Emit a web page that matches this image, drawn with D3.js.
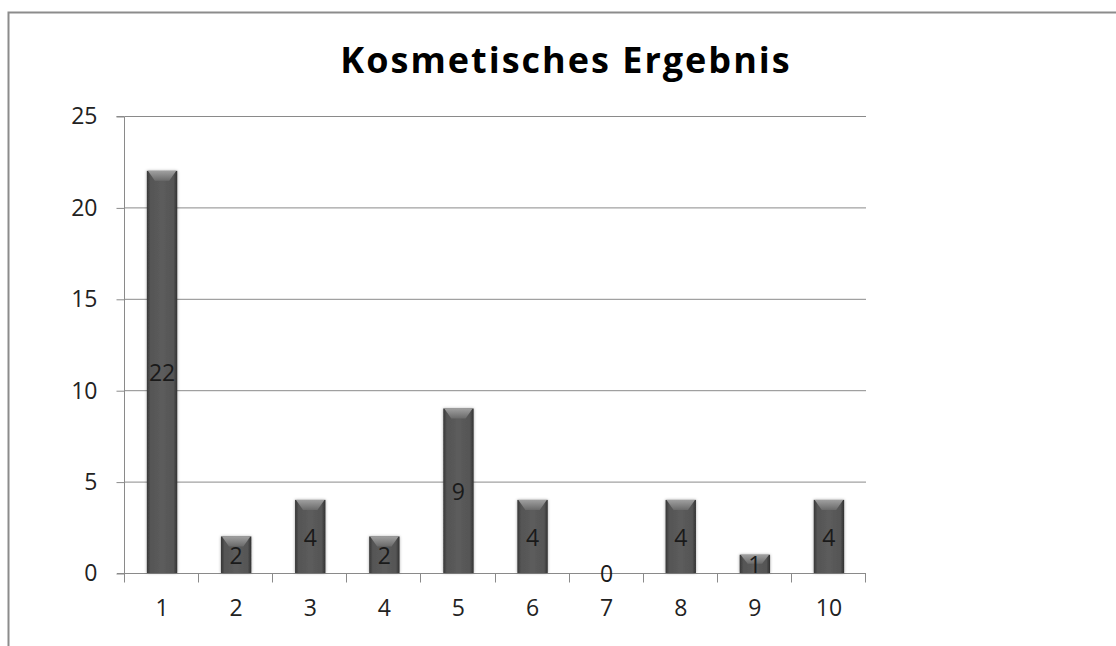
<!DOCTYPE html>
<html>
<head>
<meta charset="utf-8">
<script src="https://cdn.jsdelivr.net/npm/d3@7"></script>
<style>
  html, body { margin: 0; padding: 0; background: #fff; }
  svg { display: block; }
</style>
</head>
<body>
<svg id="chart" width="1116" height="646"></svg>
<script>
// Kategorien (Bewertungsstufen) und Anzahl der Fälle
const categories = ["1", "2", "3", "4", "5", "6", "7", "8", "9", "10"];
const counts = [22, 2, 4, 2, 9, 4, 0, 4, 1, 4];
const yTicks = [0, 5, 10, 15, 20, 25];
const title = "Kosmetisches Ergebnis";

const svg = d3.select("#chart");
const font = "'Open Sans', Lato, sans-serif";
const labelSize = 23;

// äußerer Rahmen
svg.append("rect")
  .attr("x", 8.5).attr("y", 12.5)
  .attr("width", 1200).attr("height", 700)
  .attr("fill", "#fff").attr("stroke", "#8c8c8c").attr("stroke-width", 2);

const plot = { left: 125, right: 866, top: 116, bottom: 573 };

const x = d3.scaleBand().domain(categories).range([plot.left, plot.right]).paddingInner(0.59).paddingOuter(0.295);
const xb = d3.scaleBand().domain(categories).range([plot.left, plot.right]);
const y = d3.scaleLinear().domain([0, 25]).range([plot.bottom, plot.top]);

// Gradienten für die Balken
const defs = svg.append("defs");
const g = defs.append("linearGradient").attr("id", "barGrad").attr("x1", 0).attr("x2", 1).attr("y1", 0).attr("y2", 0);
g.append("stop").attr("offset", 0).attr("stop-color", "#363636");
g.append("stop").attr("offset", 0.12).attr("stop-color", "#555");
g.append("stop").attr("offset", 0.5).attr("stop-color", "#5c5c5c");
g.append("stop").attr("offset", 0.88).attr("stop-color", "#555");
g.append("stop").attr("offset", 1).attr("stop-color", "#303030");
const gt = defs.append("linearGradient").attr("id", "topGrad").attr("x1", 0).attr("x2", 0).attr("y1", 0).attr("y2", 1);
gt.append("stop").attr("offset", 0).attr("stop-color", "#a0a0a0");
gt.append("stop").attr("offset", 1).attr("stop-color", "#6a6a6a");
const flt = defs.append("filter").attr("id", "shadow").attr("x", "-30%").attr("y", "-10%").attr("width", "160%").attr("height", "120%");
flt.append("feDropShadow").attr("dx", 0).attr("dy", 0).attr("stdDeviation", 1.6).attr("flood-color", "#000").attr("flood-opacity", 0.35);

// Gitterlinien
svg.append("g").selectAll("line").data(yTicks.filter(d => d > 0)).join("line")
  .attr("x1", plot.left).attr("x2", plot.right)
  .attr("y1", d => y(d) + 0.5).attr("y2", d => y(d) + 0.5)
  .attr("stroke", "#8a8a8a").attr("stroke-width", 1);

// y-Achse
const yAxis = svg.append("g").attr("transform", `translate(${plot.left - 0.5},0.5)`)
  .call(d3.axisLeft(y).tickValues(yTicks).tickSize(8).tickPadding(19));
yAxis.select(".domain").attr("stroke", "#8a8a8a").attr("d", `M-8,${plot.top}H0V${plot.bottom}`);
yAxis.selectAll(".tick line").attr("stroke", "#8a8a8a");
yAxis.selectAll(".tick text").attr("font-family", font).attr("font-size", labelSize).attr("fill", "#222");

// x-Achse
const xAxisG = svg.append("g").attr("transform", `translate(0,${plot.bottom + 0.5})`);
xAxisG.append("line").attr("x1", plot.left - 8).attr("x2", plot.right).attr("stroke", "#8a8a8a");
const edges = d3.range(categories.length + 1).map(i => plot.left + i * xb.step());
xAxisG.selectAll(".xt").data(edges).join("line").attr("class", "xt")
  .attr("x1", d => Math.round(d) - 0.5).attr("x2", d => Math.round(d) - 0.5)
  .attr("y1", 0).attr("y2", 9).attr("stroke", "#8a8a8a");
xAxisG.selectAll("text").data(categories).join("text")
  .attr("x", d => xb(d) + xb.bandwidth() / 2).attr("y", 42)
  .attr("text-anchor", "middle").attr("font-family", font).attr("font-size", labelSize).attr("fill", "#222")
  .text(d => d);

// Balken
const bars = svg.append("g").selectAll("g").data(categories.map((c, i) => ({ c, v: counts[i] }))).join("g");
bars.filter(d => d.v > 0).append("rect")
  .attr("x", d => x(d.c)).attr("y", d => y(d.v))
  .attr("width", x.bandwidth()).attr("height", d => y(0) - y(d.v))
  .attr("fill", "url(#barGrad)").attr("filter", "url(#shadow)");
// helle Oberkante
bars.filter(d => d.v > 0).append("path")
  .attr("d", d => {
    const x0 = x(d.c), w = x.bandwidth(), t = y(d.v);
    const h = Math.min(10, (y(0) - t) / 2);
    return `M${x0 + 1},${t}H${x0 + w - 1}L${x0 + w - 8},${t + h}H${x0 + 8}Z`;
  })
  .attr("fill", "url(#topGrad)");

// Wertbeschriftungen
bars.append("text")
  .attr("x", d => x(d.c) + x.bandwidth() / 2)
  .attr("y", d => y(d.v / 2))
  .attr("dy", "0.4em")
  .attr("text-anchor", "middle").attr("font-family", font).attr("font-size", labelSize).attr("fill", "#1a1a1a")
  .text(d => d.v);

// Titel
svg.append("text").attr("x", 566).attr("y", 73).attr("text-anchor", "middle")
  .attr("font-family", font).attr("font-weight", "bold").attr("font-size", 36)
  .attr("letter-spacing", 2).attr("fill", "#000")
  .text(title);
</script>
</body>
</html>
